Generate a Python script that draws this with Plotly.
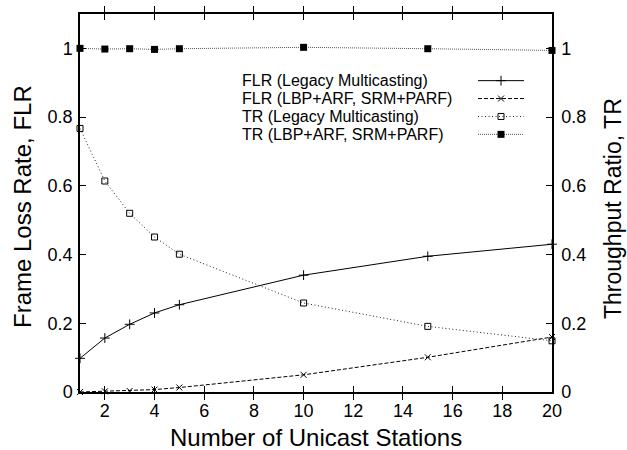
import plotly.graph_objects as go

# ---- data ----
stations = [1, 2, 3, 4, 5, 10, 15, 20]
flr_legacy = [0.098, 0.157, 0.197, 0.230, 0.254, 0.340, 0.395, 0.430]
flr_lbp = [0.0, 0.002, 0.003, 0.007, 0.013, 0.050, 0.101, 0.160]
tr_legacy = [0.767, 0.614, 0.520, 0.451, 0.401, 0.259, 0.191, 0.149]
tr_lbp = [1.000, 0.998, 0.999, 0.997, 0.999, 1.003, 0.999, 0.994]

series_names = [
    "FLR (Legacy Multicasting)",
    "FLR (LBP+ARF, SRM+PARF)",
    "TR (Legacy Multicasting)",
    "TR (LBP+ARF, SRM+PARF)",
]
x_ticks = [2, 4, 6, 8, 10, 12, 14, 16, 18, 20]
y_ticks = [0, 0.2, 0.4, 0.6, 0.8, 1.0]
y_tick_text = ["0", "0.2", "0.4", "0.6", "0.8", "1"]

FONT = "Liberation Sans, Arial, Helvetica, sans-serif"

styles = [
    dict(line=dict(color="black", width=1, dash="solid"),
         marker=dict(symbol="cross-thin", size=7, line=dict(color="black", width=1))),
    dict(line=dict(color="black", width=1, dash="4px,2px"),
         marker=dict(symbol="x-thin", size=6, line=dict(color="black", width=1))),
    dict(line=dict(color="#222", width=1, dash="1px,2.5px"),
         marker=dict(symbol="square-open", size=6, color="black", line=dict(color="black", width=1))),
    dict(line=dict(color="#555", width=1, dash="1px,1px"),
         marker=dict(symbol="square", size=7, color="black", line=dict(color="black", width=0))),
]

fig = go.Figure()
data_sets = [(flr_legacy, "y"), (flr_lbp, "y"), (tr_legacy, "y2"), (tr_lbp, "y2")]
for (vals, yax), st, name in zip(data_sets, styles, series_names):
    fig.add_trace(go.Scatter(x=stations, y=vals, yaxis=yax, mode="lines+markers",
                             name=name, line=st["line"], marker=st["marker"],
                             cliponaxis=False, showlegend=False))

# ---- custom gnuplot-style key (text left, sample right) ----
key_rows = [79, 97, 115, 133]
for row, st, name in zip(key_rows, styles, series_names):
    fig.add_trace(go.Scatter(x=[478, 524], y=[row, row], xaxis="x3", yaxis="y3",
                             mode="lines", line=st["line"], showlegend=False, hoverinfo="skip"))
    fig.add_trace(go.Scatter(x=[501], y=[row], xaxis="x3", yaxis="y3",
                             mode="markers", marker=st["marker"], showlegend=False, hoverinfo="skip"))
    fig.add_annotation(x=241, y=row, xref="x3", yref="y3", text=name, showarrow=False,
                       xanchor="left", yanchor="middle", borderpad=0,
                       font=dict(family=FONT, size=16, color="black"))

axis_common = dict(showline=True, linecolor="black", linewidth=1.5, ticks="inside",
                   ticklen=6, tickcolor="black", tickwidth=1, showgrid=False, zeroline=False,
                   tickfont=dict(family=FONT, size=18, color="black"))

fig.update_layout(
    width=627, height=450,
    margin=dict(l=80, r=75, t=12, b=58),
    paper_bgcolor="white", plot_bgcolor="white",
    xaxis=dict(range=[1, 20], tickvals=x_ticks, mirror="allticks", ticklabelstandoff=2, **axis_common),
    yaxis=dict(range=[0, 1.1], tickvals=y_ticks, ticktext=y_tick_text, mirror=True,
               ticklabelstandoff=2, **axis_common),
    yaxis2=dict(range=[0, 1.1], tickvals=y_ticks, ticktext=y_tick_text, overlaying="y",
                side="right", ticklabelstandoff=4, **axis_common),
    xaxis3=dict(domain=[0, 1], range=[80, 552], visible=False, fixedrange=True),
    yaxis3=dict(domain=[0, 1], range=[392, 12], visible=False, fixedrange=True, overlaying="y"),
    showlegend=False,
)
fig.update_layout(xaxis3=dict(anchor="y3", overlaying="x"), yaxis3=dict(anchor="x3"))

# axis titles
fig.add_annotation(x=0.5, y=-58 / 380, xref="paper", yref="paper",
                   text="Number of Unicast Stations", showarrow=False,
                   yanchor="bottom", yshift=-3,
                   font=dict(family=FONT, size=24, color="black"))
fig.add_annotation(x=0, y=0.5, xref="paper", yref="paper", xanchor="center",
                   text="Frame Loss Rate, FLR", showarrow=False, textangle=-90,
                   xshift=-58, yshift=-4,
                   font=dict(family=FONT, size=24, color="black"))
fig.add_annotation(x=1, y=0.5, xref="paper", yref="paper", xanchor="center",
                   text="Throughput Ratio, TR", showarrow=False, textangle=-90,
                   xshift=61, yshift=-6,
                   font=dict(family=FONT, size=23, color="black"))

fig.write_html("out.html")
